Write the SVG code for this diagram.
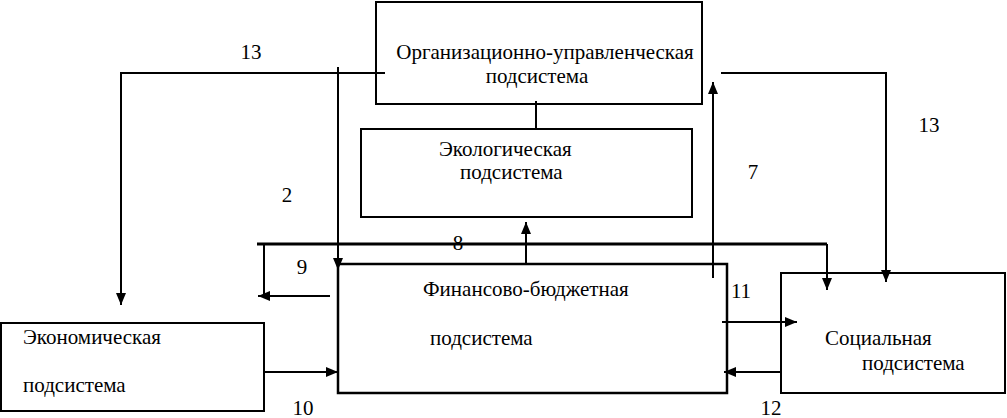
<svg xmlns="http://www.w3.org/2000/svg" width="1007" height="418" viewBox="0 0 1007 418">
<style>
.box{fill:#fff;stroke:#000;stroke-width:2}
.ln{fill:none;stroke:#000;stroke-width:2}
.thk{stroke-width:3}
text{font-family:'Liberation Serif','Times New Roman',serif;font-size:21px;fill:#000}
.n{text-anchor:middle}
</style>
<defs>
<marker id="ah" markerUnits="userSpaceOnUse" markerWidth="12" markerHeight="10" refX="12" refY="5" orient="auto">
<path d="M0,0 L12,5 L0,10 Z" fill="#000"/>
</marker>
</defs>
<rect width="1007" height="418" fill="#fff"/>
<g id="org">
<rect class="box" x="376" y="2" width="326" height="102"/>
<text x="545" y="59" text-anchor="middle">Организационно-управленческая</text>
<text x="537" y="83" text-anchor="middle">подсистема</text>
</g>
<g id="eco">
<rect class="box" x="361" y="129" width="331" height="88"/>
<text x="439" y="156">Экологическая</text>
<text x="460" y="179">подсистема</text>
</g>
<g id="fin">
<rect class="box" x="338" y="264" width="389" height="129" style="stroke-width:2.5"/>
<text x="423" y="296">Финансово-бюджетная</text>
<text x="430" y="345">подсистема</text>
</g>
<g id="econ">
<rect class="box" x="1" y="323" width="263" height="88"/>
<text x="23" y="344">Экономическая</text>
<text x="23" y="392">подсистема</text>
</g>
<g id="soc">
<rect class="box" x="781" y="273" width="224" height="120"/>
<text x="825" y="345">Социальная</text>
<text x="862" y="370">подсистема</text>
</g>
<g id="connectors">
<path class="ln" d="M385,73 H121 V305" marker-end="url(#ah)"/>
<path class="ln" d="M721,73 H886 V282" marker-end="url(#ah)"/>
<path class="ln" d="M338,67 V270" marker-end="url(#ah)"/>
<path class="ln" d="M536,101 V129"/>
<path class="ln" d="M526,264 V222" marker-end="url(#ah)"/>
<path class="ln thk" d="M257,244 H827"/>
<path class="ln" d="M827,244 V290" marker-end="url(#ah)"/>
<path class="ln" d="M264,244 V296"/>
<path class="ln" d="M330,296 H258" marker-end="url(#ah)"/>
<path class="ln" d="M713,278 V82" marker-end="url(#ah)"/>
<path class="ln" d="M264,372 H338" marker-end="url(#ah)"/>
<path class="ln" d="M722,322 H797" marker-end="url(#ah)"/>
<path class="ln" d="M781,372 H724" marker-end="url(#ah)"/>
</g>
<g id="labels">
<text class="n" x="251" y="59">13</text>
<text class="n" x="929" y="132">13</text>
<text class="n" x="287" y="202">2</text>
<text class="n" x="458" y="250">8</text>
<text class="n" x="302" y="274">9</text>
<text class="n" x="753" y="179">7</text>
<text class="n" x="741" y="298">11</text>
<text class="n" x="303" y="415">10</text>
<text class="n" x="771" y="415">12</text>
</g>
</svg>
